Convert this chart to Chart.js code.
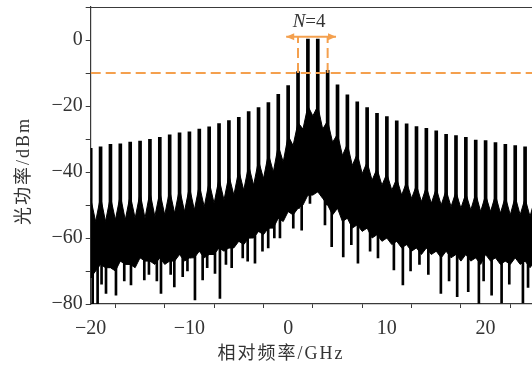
<!DOCTYPE html>
<html>
<head>
<meta charset="utf-8">
<script src="https://cdn.jsdelivr.net/npm/chart.js@4.4.1/dist/chart.umd.min.js"></script>
<style>
  html, body { margin: 0; padding: 0; background: #fff; overflow: hidden; }
  canvas { display: block; }
</style>
</head>
<body>
<canvas id="spectrum" width="532" height="367"></canvas>
<script>
const COMB_GHZ = [-20, -19, -18, -17, -16, -15, -14, -13, -12, -11, -10, -9, -8, -7, -6, -5, -4, -3, -2, -1,
  0, 1, 2, 3, 4, 5, 6, 7, 8, 9, 10, 11, 12, 13, 14, 15, 16, 17, 18, 19, 20, 21, 22, 23, 24, 25];
const COMB_PEAK_DBM = [-32.8, -32.4, -31.6, -31.5, -30.9, -30.6, -30.1, -29.5, -28.7, -28.1, -27.8, -27.0, -26.3, -25.3, -24.4, -23.4, -21.7, -20.5, -19.0, -16.5,
  -13.8, -9.6, 0.3, 0.3, -9.2, -13.6, -16.6, -18.7, -20.5, -22.2, -23.2, -24.5, -25.4, -26.2, -26.8, -27.5, -28.6, -29.0, -29.5, -30.3, -30.5, -31.1, -31.6, -32.0, -32.4, -32.8];

// noise floor band: top and bottom edge at each comb line ...
const LINE_FLOOR_TOP = [-48, -47.5, -47.5, -47, -47, -46.5, -46, -46, -45.5, -45, -44.5, -44, -43, -42, -41, -39.5, -38, -36.5, -34.5, -32,
  -29, -25, -20, -20, -24.5, -28.5, -31.5, -34.5, -37, -39, -40.5, -42, -43, -44, -44.5, -45, -45.5, -46, -46.5, -46.5, -47, -47, -47.5, -47.5, -48, -48];
const LINE_FLOOR_BOTTOM = [-72, -68, -69, -67, -68, -66, -67, -66, -67, -65, -66, -64, -65, -63, -63, -61, -60, -58, -57, -54,
  -52, -51, -47, -46, -50, -51, -54, -56, -57, -59, -60, -61, -62, -63, -63, -64, -64, -65, -65, -66, -65, -66, -67, -66, -67, -67];
// ... and halfway between neighbouring lines
const MID_GHZ = [-19.5, -18.5, -17.5, -16.5, -15.5, -14.5, -13.5, -12.5, -11.5, -10.5, -9.5, -8.5, -7.5, -6.5, -5.5, -4.5, -3.5, -2.5, -1.5, -0.5,
  0.5, 1.5, 2.5, 3.5, 4.5, 5.5, 6.5, 7.5, 8.5, 9.5, 10.5, 11.5, 12.5, 13.5, 14.5, 15.5, 16.5, 17.5, 18.5, 19.5, 20.5, 21.5, 22.5, 23.5, 24.5];
const MID_FLOOR_TOP = [-55, -55, -54.5, -54.5, -54, -54, -53.5, -53, -52.5, -52, -51.5, -50.5, -49.5, -48.5, -47, -45.5, -44, -42, -40, -37,
  -32, -27, -23, -27, -31, -35, -38, -40.5, -42.5, -44, -45.5, -47, -48, -49, -49.5, -50, -50.5, -51, -51.5, -52, -52, -52.5, -53, -53, -53.5];
const MID_FLOOR_BOTTOM = [-70, -69, -70, -68, -69, -67, -68, -68, -67, -67, -66, -66, -65, -64, -63, -62, -60, -59, -57, -55,
  -53, -50, -47, -48, -53, -55, -57, -58, -60, -61, -62, -63, -64, -65, -65, -66, -66, -67, -67, -68, -67, -68, -68, -68, -69];

// narrow drops below the floor
const DIP_GHZ = [-19.8, -19.3, -18.9, -18.45, -17.44, -16.6, -15.92, -14.57, -14.1, -13.3, -12.88, -11.9, -11.53, -10.68, -10.2, -9.44, -8.66, -8.2,
  -7.41, -6.91, -6.3, -5.72, -4.6, -4.1, -3.36, -2.6, -2.02, -1.4, -0.83, 0.52, 1.37, 2.21, 3.73, 4.41, 5.58, 6.4, 7.07, 8.3, 9.1,
  10.71, 11.62, 12.4, 13.3, 14.2, 15.47, 16.3, 17.12, 18.24, 19.32, 19.8, 20.61, 21.62, 22.4, 23.78, 24.3];
const DIP_DBM = [-80, -80, -74, -76.8, -77.3, -73, -74.2, -72.7, -71, -73, -76.8, -71, -74.8, -71.7, -70, -78.8, -72.7, -69,
  -70.7, -78.3, -68, -69, -66, -67, -67.6, -64, -63, -60, -60, -57, -57.6, -49.5, -56, -62.6, -65.7, -62, -67.6, -64, -66,
  -69.7, -74.2, -70, -68, -71, -76.8, -73, -77.8, -76.3, -79.8, -73, -77.3, -79.7, -74, -79.7, -75];

// annotation: -10 dBm threshold, N = 4 lines above it
const THRESHOLD_DBM = -10;
const N_EDGE_GHZ = [1, 4];
const ARROW_GHZ = [-0.2, 4.85];
const ARROW_DBM = 1;

// axes
const X_MIN = -20, X_MAX = 24.7, Y_MIN = -80, Y_MAX = 10;
const X_LABELS = [-20, -10, 0, 10, 20];
const Y_LABELS = [0, -20, -40, -60, -80];

const AXIS = "#3a3a3a";
const ORANGE = "#F4A04E";
const SERIF = '"Liberation Serif", "Times New Roman", serif';
const fmt = v => (v < 0 ? "\u2212" + Math.abs(v) : String(v));

// band samples, lines and midpoints in order
const band = [];
COMB_GHZ.forEach((g, i) => {
  band.push({ x: g, top: LINE_FLOOR_TOP[i], bottom: LINE_FLOOR_BOTTOM[i] });
  if (i < MID_GHZ.length) band.push({ x: MID_GHZ[i], top: MID_FLOOR_TOP[i], bottom: MID_FLOOR_BOTTOM[i] });
});
const nearestBottom = g => band.reduce((a, b) => (Math.abs(b.x - g) < Math.abs(a.x - g) ? b : a)).bottom;

const annot = {
  id: "annot",
  afterDraw(chart) {
    const { ctx, chartArea: ca, scales: { x, y } } = chart;
    ctx.save();
    // top frame line
    ctx.strokeStyle = AXIS;
    ctx.lineWidth = 1;
    ctx.beginPath();
    ctx.moveTo(ca.left, ca.top + 0.5);
    ctx.lineTo(ca.right, ca.top + 0.5);
    ctx.stroke();

    // arrow heads
    const ay = y.getPixelForValue(ARROW_DBM);
    const x0 = x.getPixelForValue(ARROW_GHZ[0]);
    const x1 = x.getPixelForValue(ARROW_GHZ[1]);
    ctx.fillStyle = ORANGE;
    [[x0, 1], [x1, -1]].forEach(([px, dir]) => {
      ctx.beginPath();
      ctx.moveTo(px, ay);
      ctx.lineTo(px + dir * 8, ay - 3.5);
      ctx.lineTo(px + dir * 8, ay + 3.5);
      ctx.closePath();
      ctx.fill();
    });

    // N=4 label
    ctx.fillStyle = "#333";
    ctx.textBaseline = "alphabetic";
    ctx.font = "italic 19px " + SERIF;
    const wN = ctx.measureText("N").width;
    ctx.font = "19px " + SERIF;
    const wRest = ctx.measureText("=4").width;
    const start = (x0 + x1) / 2 - 2 - (wN + wRest) / 2;
    ctx.font = "italic 19px " + SERIF;
    ctx.fillText("N", start, ay - 10);
    ctx.font = "19px " + SERIF;
    ctx.fillText("=4", start + wN, ay - 10);

    // axis titles
    ctx.fillStyle = "#333";
    ctx.font = '18px "Liberation Serif", "Noto Sans CJK SC", serif';
    ctx.letterSpacing = "2px";
    ctx.textAlign = "center";
    ctx.textBaseline = "middle";
    ctx.fillText("相对频率/GHz", 281, 354);
    ctx.translate(24, 171);
    ctx.rotate(-Math.PI / 2);
    ctx.fillText("光功率/dBm", 0, 0);
    ctx.restore();
  },
};

const dashed = (data) => ({
  type: "line", data, order: 0,
  borderColor: ORANGE, borderWidth: 2, borderDash: [10, 5],
  pointRadius: 0, fill: false,
});

new Chart(document.getElementById("spectrum"), {
  type: "bar",
  data: {
    datasets: [
      dashed([{ x: X_MIN, y: THRESHOLD_DBM }, { x: X_MAX, y: THRESHOLD_DBM }]),
      dashed([{ x: N_EDGE_GHZ[0], y: THRESHOLD_DBM }, { x: N_EDGE_GHZ[0], y: ARROW_DBM }]),
      dashed([{ x: N_EDGE_GHZ[1], y: THRESHOLD_DBM }, { x: N_EDGE_GHZ[1], y: ARROW_DBM }]),
      {
        type: "line", order: 0,
        data: ARROW_GHZ.map(g => ({ x: g, y: ARROW_DBM })),
        borderColor: ORANGE, borderWidth: 2, pointRadius: 0, fill: false,
      },
      {
        // comb spikes
        type: "bar", order: 1, grouped: false,
        data: COMB_GHZ.map((g, i) => ({ x: g, y: [LINE_FLOOR_BOTTOM[i], COMB_PEAK_DBM[i]] })),
        backgroundColor: "#000", borderWidth: 0, barThickness: 3,
      },
      {
        // floor dips
        type: "bar", order: 2, grouped: false,
        data: DIP_GHZ.map((g, i) => ({ x: g, y: [DIP_DBM[i], nearestBottom(g) + 2] })),
        backgroundColor: "#000", borderWidth: 0, barThickness: 2,
      },
      {
        type: "line", order: 3,
        data: band.map(p => ({ x: p.x, y: p.top })),
        borderColor: "#000", borderWidth: 1, pointRadius: 0, fill: false,
      },
      {
        type: "line", order: 3,
        data: band.map(p => ({ x: p.x, y: p.bottom })),
        borderColor: "#000", borderWidth: 1, pointRadius: 0,
        fill: "-1", backgroundColor: "#000",
      },
    ],
  },
  options: {
    responsive: false,
    animation: false,
    events: [],
    devicePixelRatio: 1,
    layout: { padding: { top: 7, left: 0, right: 0, bottom: 0 } },
    plugins: { legend: { display: false }, tooltip: { enabled: false } },
    scales: {
      x: {
        type: "linear", min: X_MIN, max: X_MAX, offset: false,
        afterFit: s => { s.height = 63; s.paddingLeft = 0; s.paddingRight = 0; },
        border: { color: AXIS, width: 1.2 },
        grid: { drawOnChartArea: false, tickLength: 4, color: AXIS },
        ticks: {
          stepSize: 5, includeBounds: false, autoSkip: false, maxRotation: 0, padding: 9,
          color: "#333", font: { family: SERIF, size: 20 },
          callback: v => (X_LABELS.includes(v) ? fmt(v) : ""),
        },
      },
      y: {
        min: Y_MIN, max: Y_MAX,
        afterFit: s => { s.width = 90.7; s.paddingTop = 0; s.paddingBottom = 0; },
        border: { color: AXIS, width: 1.2 },
        grid: { drawOnChartArea: false, tickLength: 5, color: AXIS },
        ticks: {
          stepSize: 10, includeBounds: false, autoSkip: false, padding: 3,
          color: "#333", font: { family: SERIF, size: 20 },
          callback: v => (Y_LABELS.includes(v) ? fmt(v) : ""),
        },
      },
    },
  },
  plugins: [annot],
});
</script>
</body>
</html>
